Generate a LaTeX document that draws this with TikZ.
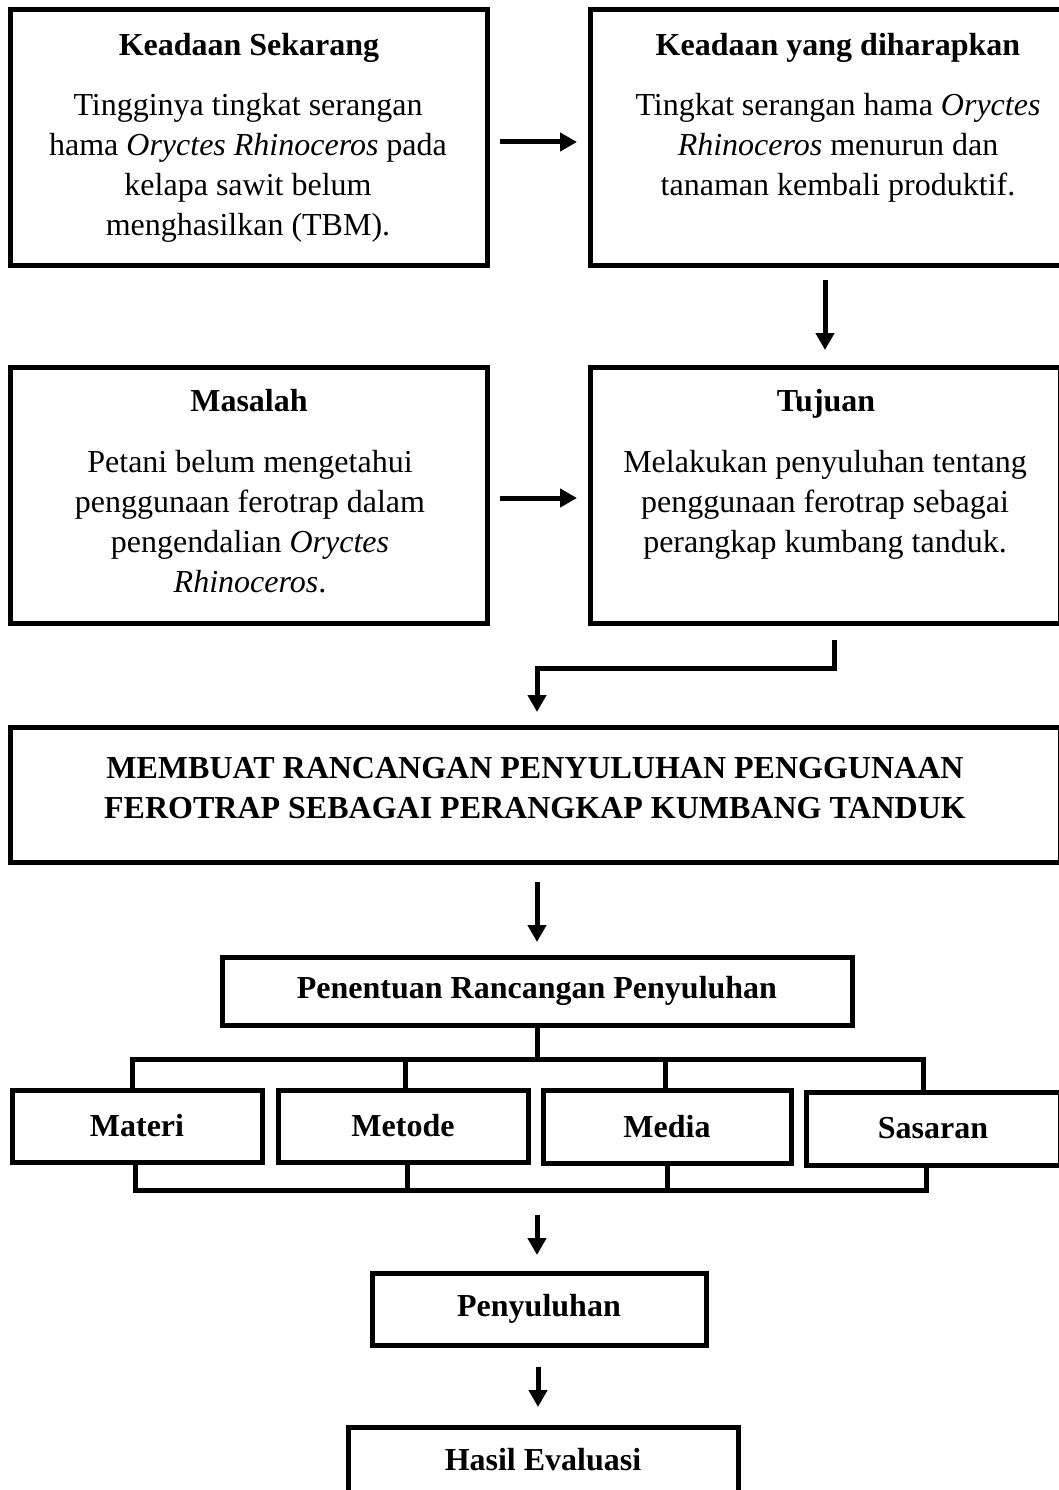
\documentclass[tikz,border=0pt]{standalone}
\usepackage{fontspec}
\setmainfont{Liberation Serif}
\usetikzlibrary{arrows.meta,calc}
\tikzset{
  boxx/.style={draw=black, line width=5pt, inner sep=0pt, rectangle},
  txt/.style={inner sep=0pt, align=center, font=\fontsize{32}{40}\selectfont},
  ttl/.style={inner sep=0pt, anchor=base, font=\bfseries\fontsize{32}{40}\selectfont},
  arr/.style={line width=5pt, -{Triangle[length=17pt,width=18pt]}},
  ln/.style={line width=5pt, line cap=rect},
}
\begin{document}
\begin{tikzpicture}[x=1pt,y=-1pt]
\useasboundingbox (0,0) rectangle (1059,1490);
\fill[white] (0,0) rectangle (1059,1490);
\clip (0,0) rectangle (1059,1490);

% top row
\node[boxx, minimum width=477pt, minimum height=255pt] (b1) at (248.5,137.5) {};
\node[boxx, minimum width=496pt, minimum height=255pt] (b2) at (838,137.5) {};
\node[ttl] (t1) at (249,56) {Keadaan Sekarang};
\node[txt, anchor=north] (d1) at (248,93) {Tingginya tingkat serangan\\hama \textit{Oryctes Rhinoceros} pada\\kelapa sawit belum\\menghasilkan (TBM).};
\node[ttl] (t2) at (838,56) {Keadaan yang diharapkan};
\node[txt, anchor=north] (d2) at (838,93) {Tingkat serangan hama \textit{Oryctes}\\\textit{Rhinoceros} menurun dan\\tanaman kembali produktif.};

% second row
\node[boxx, minimum width=477pt, minimum height=256pt] (b3) at (248.5,495) {};
\node[boxx, minimum width=470pt, minimum height=256pt] (b4) at (825,495) {};
\node[ttl] (t3) at (249,411) {Masalah};
\node[txt, anchor=north] (d3) at (250,450) {Petani belum mengetahui\\penggunaan ferotrap dalam\\pengendalian \textit{Oryctes}\\\textit{Rhinoceros}.};
\node[ttl] (t4) at (826,411) {Tujuan};
\node[txt, anchor=north] (d4) at (825,450) {Melakukan penyuluhan tentang\\penggunaan ferotrap sebagai\\perangkap kumbang tanduk.};

% wide box
\node[boxx, minimum width=1050pt, minimum height=135pt] (b5) at (535,794.5) {};
\node[txt, anchor=north, font=\bfseries\fontsize{32}{40}\selectfont] (d5) at (535,757) {MEMBUAT RANCANGAN PENYULUHAN PENGGUNAAN\\FEROTRAP SEBAGAI PERANGKAP KUMBANG TANDUK};

% Penentuan
\node[boxx, minimum width=630pt, minimum height=68pt, font=\bfseries\fontsize{32}{40}\selectfont] (b6) at (537,991) {Penentuan Rancangan Penyuluhan};

% four boxes
\node[boxx, minimum width=250pt, minimum height=72pt, font=\bfseries\fontsize{32}{40}\selectfont] (m1) at (137,1126) {Materi};
\node[boxx, minimum width=250pt, minimum height=72pt, font=\bfseries\fontsize{32}{40}\selectfont] (m2) at (403,1126) {Metode};
\node[boxx, minimum width=248pt, minimum height=73pt, font=\bfseries\fontsize{32}{40}\selectfont] (m3) at (667,1126.5) {Media};
\node[boxx, minimum width=254pt, minimum height=73pt, font=\bfseries\fontsize{32}{40}\selectfont] (m4) at (933,1128.5) {Sasaran};

% Penyuluhan and Hasil
\node[boxx, minimum width=334pt, minimum height=72pt, font=\bfseries\fontsize{32}{40}\selectfont] (b7) at (539,1309) {Penyuluhan};
\node[boxx, minimum width=390pt, minimum height=66pt, font=\bfseries\fontsize{32}{40}\selectfont] (b8) at (543,1460) {Hasil Evaluasi};

% arrows
\draw[arr, shorten <=10.5pt, shorten >=10.5pt] ([yshift=-4.5pt]b1.east) -- ([yshift=-4.5pt]b2.west);
\draw[arr, shorten <=12.5pt, shorten >=14.5pt] (b2.south -| b4.north) -- (b4.north);
\draw[arr, shorten <=10.5pt, shorten >=10.5pt] ([yshift=-3pt]b3.east) -- ([yshift=-3pt]b4.west);
\draw[arr, shorten <=14.5pt, shorten >=12.5pt] ([xshift=9pt]b4.south) -- ++(0,42.5) -| ([xshift=2pt]b5.north);
\draw[arr, shorten <=17.5pt, shorten >=12.5pt] (b6.north |- b5.south) -- (b6.north);

% bracket
\coordinate (jt) at ($(b6.south)+(0,31.5)$);
\coordinate (jb) at (537,1190);
\draw[ln] (b6.south) -- (jt);
\draw[ln] ([xshift=-5pt]m1.north) -- ([xshift=-5pt]m1.north |- jt) -- ([xshift=-10pt]m4.north |- jt) -- ([xshift=-10pt]m4.north);
\draw[ln] ([xshift=2pt]m2.north) -- ([xshift=2pt]m2.north |- jt);
\draw[ln] ([xshift=-2pt]m3.north) -- ([xshift=-2pt]m3.north |- jt);
\draw[ln] ([xshift=-2pt]m1.south) -- ([xshift=-2pt]m1.south |- jb) -- ([xshift=-7pt]m4.south |- jb) -- ([xshift=-7pt]m4.south);
\draw[ln] ([xshift=4pt]m2.south) -- ([xshift=4pt]m2.south |- jb);
\draw[ln] (m3.south) -- (m3.south |- jb);

\draw[arr, shorten <=25pt, shorten >=15.5pt] (jb) -- (jb |- b7.north);
\draw[arr, shorten <=19.5pt, shorten >=17.5pt] ([xshift=-1pt]b7.south) -- ([xshift=-1pt]b7.south |- b8.north);
\end{tikzpicture}
\end{document}
